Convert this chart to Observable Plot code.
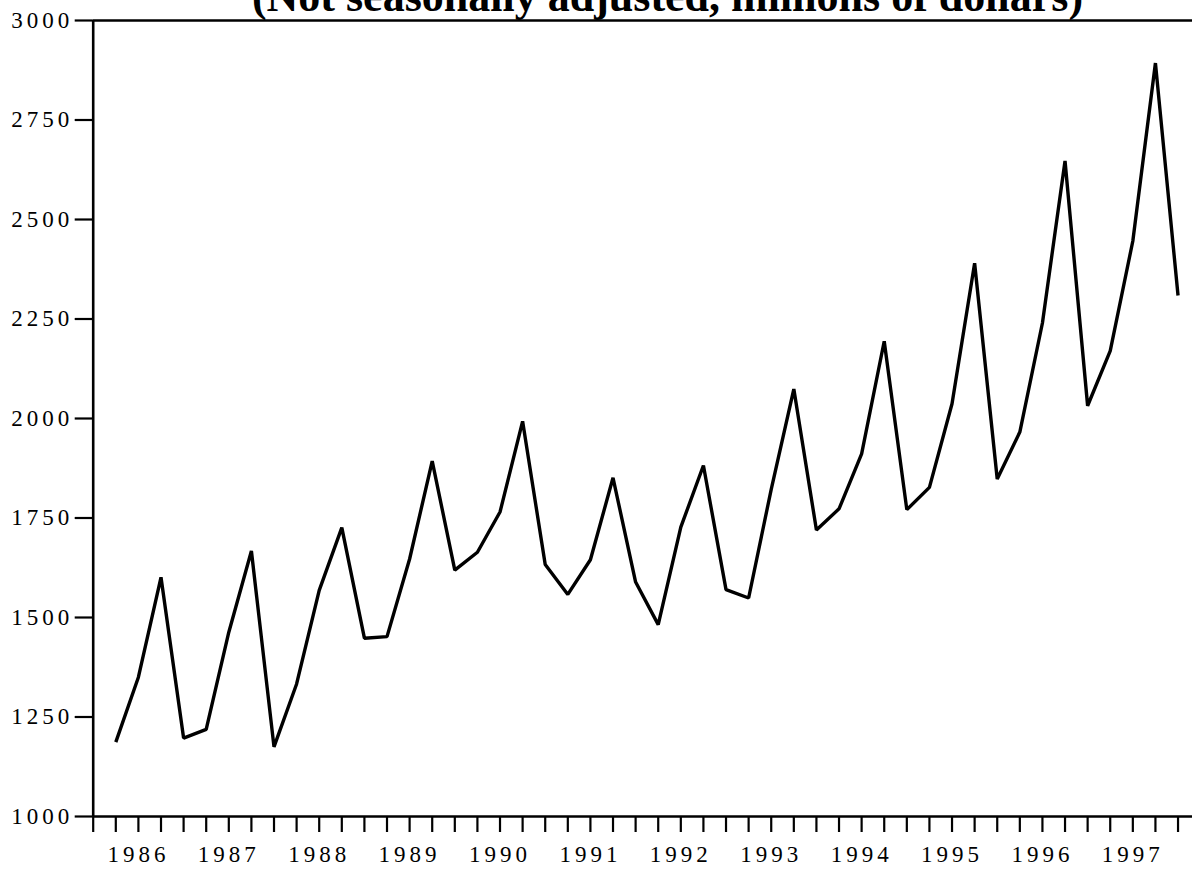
<!DOCTYPE html>
<html>
<head>
<meta charset="utf-8">
<script src="https://cdn.jsdelivr.net/npm/d3@7"></script>
<script src="https://cdn.jsdelivr.net/npm/@observablehq/plot@0.6"></script>
<style>
  html, body { margin: 0; padding: 0; background: #fff; }
  #wrap { width: 1192px; height: 869px; overflow: hidden; }
</style>
</head>
<body>
<div id="wrap"></div>
<script>
const title = "(Not seasonally adjusted, millions of dollars)";
const years = [1986, 1987, 1988, 1989, 1990, 1991, 1992, 1993, 1994, 1995, 1996, 1997];
const quarters = ["Q1", "Q2", "Q3", "Q4"];
const values = [
  1187, 1350, 1601, 1197,
  1219, 1463, 1667, 1175,
  1333, 1568, 1726, 1448,
  1452, 1647, 1893, 1619,
  1664, 1765, 1993, 1633,
  1558, 1645, 1851, 1589,
  1482, 1727, 1882, 1570,
  1549, 1822, 2074, 1720,
  1773, 1911, 2194, 1771,
  1827, 2037, 2390, 1848,
  1966, 2240, 2647, 2032,
  2170, 2446, 2893, 2309
];
const yTicks = [1000, 1250, 1500, 1750, 2000, 2250, 2500, 2750, 3000];

const data = values.map((v, i) => ({
  i,
  year: years[Math.floor(i / quarters.length)],
  quarter: quarters[i % quarters.length],
  value: v
}));
const tickIdx = d3.range(-1, values.length);
const labelIdx = years.map((y, k) => k * quarters.length + 1);

const chart = Plot.plot({
  width: 1192,
  height: 869,
  marginTop: 20,
  marginBottom: 53,
  marginLeft: 92.7,
  marginRight: 0,
  x: { domain: [-1, 47.64], axis: null },
  y: { domain: [1000, 3000], axis: null },
  style: {
    fontFamily: "'Liberation Serif', 'Times New Roman', serif",
    fontSize: "23px",
    letterSpacing: "4px",
    color: "#000",
    background: "#fff",
    overflow: "visible"
  },
  marks: [
    Plot.axisY({ ticks: yTicks, label: null, tickSize: 18, tickPadding: 2, strokeWidth: 2.2, fontSize: 23, tickFormat: d => String(d) }),
    Plot.axisX({ ticks: tickIdx, label: null, tickSize: 16, strokeWidth: 2.2, tickFormat: () => "" }),
    Plot.axisX({ ticks: labelIdx, label: null, tickSize: 0, tickPadding: 29, fontSize: 23, tickFormat: i => String(years[(i - 1) / quarters.length]) }),
    Plot.ruleY([3000], { strokeWidth: 2.6 }),
    Plot.ruleY([1000], { strokeWidth: 2.6 }),
    Plot.ruleX([-1], { strokeWidth: 2.6 }),
    Plot.line(data, { x: "i", y: "value", stroke: "#000", strokeWidth: 3.4, strokeLinejoin: "miter", strokeLinecap: "butt" })
  ]
});

d3.select(chart).append("text")
  .attr("x", 667.5)
  .attr("y", 11)
  .attr("text-anchor", "middle")
  .style("font-family", "'Liberation Serif', 'Times New Roman', serif")
  .style("font-weight", "bold")
  .style("font-size", "44px")
  .style("letter-spacing", "0px")
  .attr("fill", "#000")
  .text(title);

document.getElementById("wrap").appendChild(chart);
</script>
</body>
</html>
